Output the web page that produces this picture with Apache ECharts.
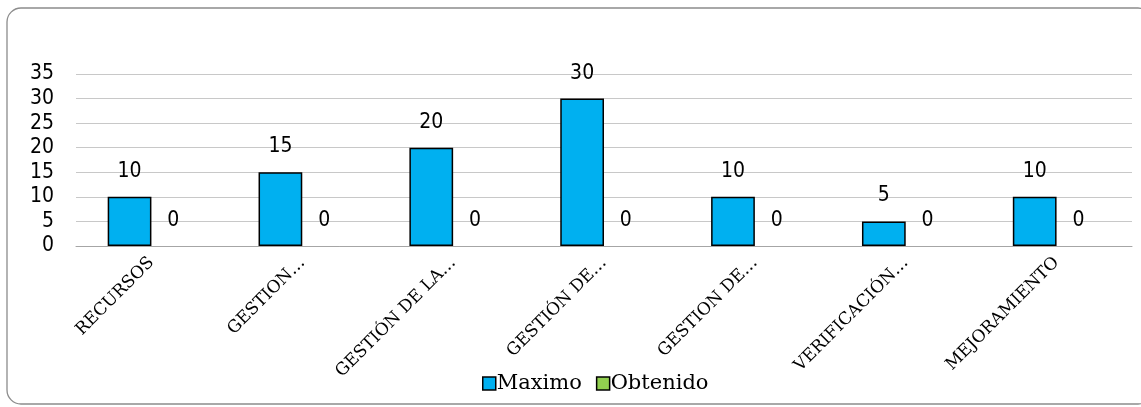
<!DOCTYPE html>
<html><head><meta charset="utf-8">
<script src="https://cdn.jsdelivr.net/npm/echarts@6/dist/echarts.min.js"></script>
<style>html,body{margin:0;padding:0;background:#fff}#c{width:1141px;height:407px}</style>
</head><body><div id="c"></div>
<script>
const categories = ["RECURSOS","GESTION…","GESTIÓN DE LA…","GESTIÓN DE…","GESTION DE…","VERIFICACIÓN…","MEJORAMIENTO"];
const maximo = [10,15,20,30,10,5,10];
const obtenido = [0,0,0,0,0,0,0];
const yTicks = [0,5,10,15,20,25,30,35];

const numFont = '"Liberation Sans Narrow","DejaVu Sans Condensed",sans-serif';
const serif = '"DejaVu Serif",serif';
const chart = echarts.init(document.getElementById('c'));
chart.setOption({
  animation:false,
  graphic:[{type:'rect',shape:{x:7,y:8,width:1145,height:396,r:14},style:{fill:'none',stroke:'#8c8c8c',lineWidth:1.3},silent:true}],
  grid:{left:76,right:9,top:74,bottom:161,containLabel:false},
  legend:{top:368,left:477,icon:'rect',itemWidth:13,itemHeight:13,itemGap:14,
    textStyle:{fontFamily:serif,fontSize:21,color:'#000',padding:[0,0,0,-4]},
    data:[{name:'Maximo',itemStyle:{color:'#00B0F0',borderColor:'#000',borderWidth:1.5}},
          {name:'Obtenido',itemStyle:{color:'#92D050',borderColor:'#000',borderWidth:1.5}}]},
  xAxis:{type:'category',data:categories,
    axisLine:{lineStyle:{color:'#a6a6a6',width:1}},axisTick:{show:false},
    axisLabel:{rotate:45,interval:0,margin:14,fontFamily:serif,fontSize:17,color:'#000'}},
  yAxis:{type:'value',min:0,max:35,interval:5,
    axisLabel:{fontFamily:numFont,fontSize:21,color:'#000',margin:22,
      formatter:v=>yTicks.includes(v)?String(v):''},
    splitLine:{lineStyle:{color:'#c8c8c8',width:1}},
    axisLine:{show:false},axisTick:{show:false}},
  series:[
    {name:'Maximo',type:'bar',data:maximo,barGap:'0%',barCategoryGap:'42%',
     itemStyle:{color:'#00B0F0',borderColor:'#000',borderWidth:1.5},
     label:{show:true,position:'top',distance:15,fontFamily:numFont,fontSize:21,color:'#000'}},
    {name:'Obtenido',type:'bar',data:obtenido,
     itemStyle:{color:'#92D050',borderWidth:0},
     label:{show:true,position:'top',distance:15,fontFamily:numFont,fontSize:21,color:'#000'}}
  ]
});
</script></body></html>
